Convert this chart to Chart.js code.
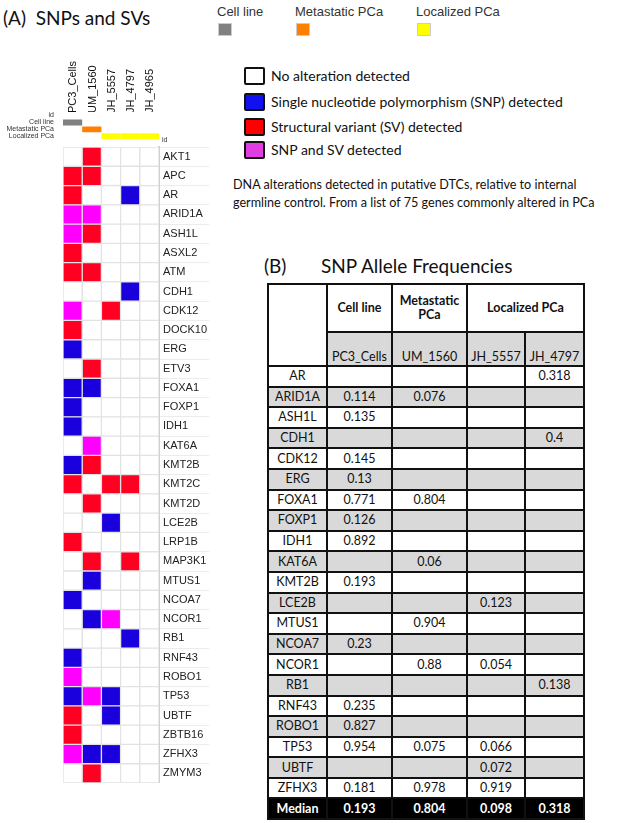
<!DOCTYPE html>
<html><head><meta charset="utf-8">
<script src="https://cdn.jsdelivr.net/npm/chart.js@4.4.1/dist/chart.umd.min.js"></script>
<style>
body{margin:0;background:#fff;width:618px;height:823px;position:relative;overflow:hidden;font-family:Lato,sans-serif;color:#111;}
.abs{position:absolute;white-space:nowrap;}
.tl{font-family:'Liberation Sans',Arial,sans-serif;font-size:13px;color:#333;}
.tbox{position:absolute;width:14px;height:13px;box-sizing:border-box;border:1px solid #ccc;}
.lbox{position:absolute;left:244px;width:21px;height:18px;box-sizing:border-box;border:2px solid #111;border-radius:2px;}
.ltxt{position:absolute;left:271px;font-size:14px;line-height:18px;}
table{position:absolute;left:267px;top:283px;border-collapse:collapse;table-layout:fixed;font-family:Lato,sans-serif;font-size:12.5px;color:#111;}
td{border:2px solid #111;padding:0;text-align:center;vertical-align:middle;height:18.6px;line-height:14px;}
td.g{background:#d9d9d9;}
tr.h1 td{height:46px;font-weight:bold;}
tr.h2 td{height:31px;vertical-align:bottom;padding-bottom:1px;}
tr.med td{background:#000;color:#fff;font-weight:bold;}
</style></head><body>
<div class="abs" style="left:3px;top:6px;font-size:19px;">(A)&nbsp;&nbsp;SNPs and SVs</div>

<div class="abs tl" id="grpLegend"></div>

<canvas id="ann" width="220" height="97" style="position:absolute;left:0;top:48px;"></canvas>
<div class="abs" style="left:162px;top:136px;font-family:'Liberation Sans',Arial,sans-serif;font-size:7px;color:#333;">id</div>
<canvas id="heat" width="153" height="637" style="position:absolute;left:62px;top:146px;"></canvas>

<div id="altLegend"></div>

<div class="abs" style="left:233px;top:176px;font-size:12.6px;line-height:18px;">DNA alterations detected in putative DTCs, relative to internal<br>germline control. From a list of 75 genes commonly altered in PCa</div>

<div class="abs" style="left:264px;top:254px;font-size:19px;">(B)</div>
<div class="abs" style="left:321px;top:254px;font-size:19px;">SNP Allele Frequencies</div>

<table id="tbl"></table>

<script>
// ---------- Panel A data ----------
const genes = ['AKT1','APC','AR','ARID1A','ASH1L','ASXL2','ATM','CDH1','CDK12','DOCK10','ERG','ETV3','FOXA1','FOXP1','IDH1','KAT6A','KMT2B','KMT2C','KMT2D','LCE2B','LRP1B','MAP3K1','MTUS1','NCOA7','NCOR1','RB1','RNF43','ROBO1','TP53','UBTF','ZBTB16','ZFHX3','ZMYM3'];
const samples = ['PC3_Cells','UM_1560','JH_5557','JH_4797','JH_4965'];
const sampleGroup = ['Cell line','Metastatic PCa','Localized PCa','Localized PCa','Localized PCa'];
const groupRows = ['id','Cell line','Metastatic PCa','Localized PCa'];
const groupNames = ['Cell line','Metastatic PCa','Localized PCa'];
// alteration codes: 0 none, 1 SNP, 2 SV, 3 SNP and SV
const altPC3    = [0,2,2,3,3,2,2,0,3,2,1,0,1,1,1,0,1,2,0,0,2,0,0,1,0,0,1,3,1,2,2,3,0];
const altUM1560 = [2,2,0,3,2,0,2,0,0,0,0,2,1,0,0,3,2,0,2,0,0,2,1,0,1,0,0,0,3,0,0,1,2];
const altJH5557 = [0,0,0,0,0,0,0,0,2,0,0,0,0,0,0,0,0,2,0,1,0,0,0,0,3,0,0,0,1,1,0,1,0];
const altJH4797 = [0,0,1,0,0,0,0,1,0,0,0,0,0,0,0,0,0,2,0,0,0,2,0,0,0,1,0,0,0,0,0,0,0];
const altJH4965 = [0,0,0,0,0,0,0,0,0,0,0,0,0,0,0,0,0,0,0,0,0,0,0,0,0,0,0,0,0,0,0,0,0];
const altLabels = ['No alteration detected','Single nucleotide polymorphism (SNP) detected','Structural variant (SV) detected','SNP and SV detected'];

// ---------- Panel B data ----------
const tableGenes = ['AR','ARID1A','ASH1L','CDH1','CDK12','ERG','FOXA1','FOXP1','IDH1','KAT6A','KMT2B','LCE2B','MTUS1','NCOA7','NCOR1','RB1','RNF43','ROBO1','TP53','UBTF','ZFHX3'];
const tableSamples = ['PC3_Cells','UM_1560','JH_5557','JH_4797'];
const afPC3    = [null,0.114,0.135,null,0.145,0.13,0.771,0.126,0.892,null,0.193,null,null,0.23,null,null,0.235,0.827,0.954,null,0.181];
const afUM1560 = [null,0.076,null,null,null,null,0.804,null,null,0.06,null,null,0.904,null,0.88,null,null,null,0.075,null,0.978];
const afJH5557 = [null,null,null,null,null,null,null,null,null,null,null,0.123,null,null,0.054,null,null,null,0.066,0.072,0.919];
const afJH4797 = [0.318,null,null,0.4,null,null,null,null,null,null,null,null,null,null,null,0.138,null,null,null,null,null];
const medians  = [0.193,0.804,0.098,0.318];

// ---------- styles ----------
const altColors = ['#ffffff','#1a00dc','#ff0022','#ff00ff'];
const altLegendColors = ['#ffffff','#1010f0','#ff0000','#e03ee0'];
const groupColors = {'Cell line':'#808080','Metastatic PCa':'#ff8000','Localized PCa':'#ffff00'};
const lab = "'Liberation Sans', Arial, sans-serif";

// group legend (top)
const gl = document.getElementById('grpLegend');
const glX = [217, 295, 416];
groupNames.forEach((g,i)=>{
  const t=document.createElement('div');t.className='abs';t.style.left=glX[i]+'px';t.style.top='4px';t.textContent=g;gl.appendChild(t);
  const b=document.createElement('div');b.className='tbox';b.style.left=(glX[i]+1)+'px';b.style.top='23px';b.style.background=groupColors[g];document.body.appendChild(b);
});

// alteration legend
const al = document.getElementById('altLegend');
const alY = [67, 93, 118, 141];
altLabels.forEach((t,i)=>{
  const b=document.createElement('div');b.className='lbox';b.style.top=alY[i]+'px';b.style.background=altLegendColors[i];al.appendChild(b);
  const d=document.createElement('div');d.className='ltxt';d.style.top=alY[i]+'px';d.textContent=t;al.appendChild(d);
});

// annotation chart
new Chart(document.getElementById('ann'),{
  type:'bar',
  data:{labels:groupRows,datasets:samples.map((s,i)=>({
    label:s,
    data:groupRows.map(r=> r===sampleGroup[i] ? [i,i+1] : null),
    backgroundColor:groupColors[sampleGroup[i]],
    borderWidth:0,barPercentage:0.85,categoryPercentage:1
  }))},
  options:{indexAxis:'y',responsive:false,animation:false,
    layout:{padding:{left:0,right:61,top:0,bottom:2}},
    plugins:{legend:{display:false},tooltip:{enabled:false}},
    scales:{
      x:{type:'linear',position:'top',min:0,max:5,
        afterBuildTicks:a=>{a.ticks=samples.map((s,i)=>({value:i+0.5}));},
        afterFit:s=>{s.height=64;},
        grid:{display:false},border:{display:false},
        ticks:{autoSkip:false,minRotation:90,maxRotation:90,padding:-9,labelOffset:14,color:'#111',font:{family:lab,size:11},
          callback:v=>samples[Math.floor(v)]}},
      y:{type:'category',position:'left',stacked:true,afterFit:s=>{s.width=63;},
        grid:{display:false},border:{display:false},
        ticks:{autoSkip:false,padding:1,color:'#333',font:{family:lab,size:7}}}
    }}
});

// heatmap chart
const altBySample=[altPC3,altUM1560,altJH5557,altJH4797,altJH4965];
new Chart(document.getElementById('heat'),{
  type:'bar',
  data:{labels:genes,datasets:samples.map((s,i)=>({
    label:s,
    data:genes.map(()=>[i,i+1]),
    backgroundColor:altBySample[i].map(c=>altColors[c]),
    borderColor:'#e2e2e2',borderWidth:1,borderSkipped:false,
    barPercentage:1,categoryPercentage:1
  }))},
  options:{indexAxis:'y',responsive:false,animation:false,
    layout:{padding:{left:1,top:1,right:0,bottom:0}},
    plugins:{legend:{display:false},tooltip:{enabled:false}},
    scales:{
      x:{type:'linear',min:0,max:5,display:false},
      y:{position:'right',stacked:true,afterFit:s=>{s.width=56;},
        grid:{display:true,drawOnChartArea:false,offset:true,tickLength:50,color:'#ececec'},
        border:{display:true,color:'#d0d0d0',width:2},
        ticks:{padding:-46,color:'#222',font:{family:lab,size:11}}}
    }}
});

// table
const afBySample=[afPC3,afUM1560,afJH5557,afJH4797];
const colW=[59,65,75,58,59];
let html='<colgroup>'+colW.map(w=>'<col style="width:'+w+'px">').join('')+'</colgroup>';
html+='<tr class="h1"><td rowspan="2" style="height:79px"></td><td>Cell line</td><td>Metastatic<br>PCa</td><td colspan="2">Localized PCa</td></tr>';
html+='<tr class="h2">'+tableSamples.map(s=>'<td class="g">'+s+'</td>').join('')+'</tr>';
tableGenes.forEach((g,r)=>{
  const c = r%2===1 ? ' class="g"' : '';
  html+='<tr><td'+c+'>'+g+'</td>'+afBySample.map(a=>'<td'+c+'>'+(a[r]===null?'':String(a[r]))+'</td>').join('')+'</tr>';
});
html+='<tr class="med"><td>Median</td>'+medians.map(m=>'<td>'+m.toFixed(3)+'</td>').join('')+'</tr>';
document.getElementById('tbl').innerHTML=html;
</script>
</body></html>
